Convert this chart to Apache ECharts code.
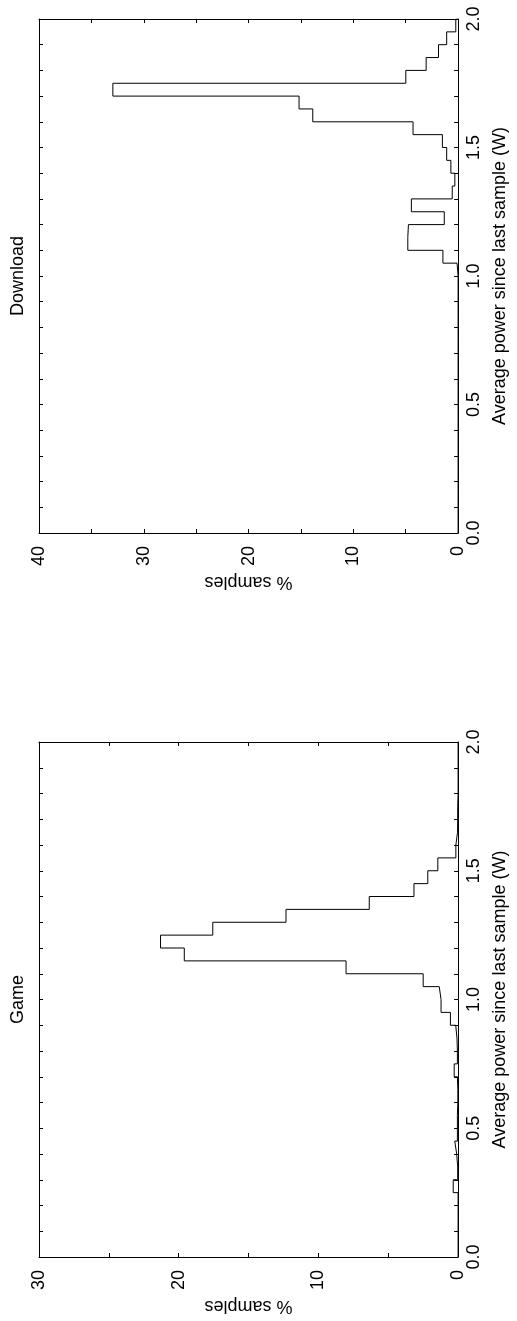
<!DOCTYPE html>
<html>
<head>
<meta charset="utf-8">
<script src="https://cdn.jsdelivr.net/npm/echarts@6/dist/echarts.min.js"></script>
<style>
html,body{margin:0;padding:0;background:#fff;}
#chart{width:517px;height:1321px;}
</style>
</head>
<body>
<div id="chart"></div>
<script>
// Bin lower edges (W); every bin is 0.05 W wide
const binStart = [0.00,0.05,0.10,0.15,0.20,0.25,0.30,0.35,0.40,0.45,
                  0.50,0.55,0.60,0.65,0.70,0.75,0.80,0.85,0.90,0.95,
                  1.00,1.05,1.10,1.15,1.20,1.25,1.30,1.35,1.40,1.45,
                  1.50,1.55,1.60,1.65,1.70,1.75,1.80,1.85,1.90,1.95];
const binWidth = 0.05;

// % samples per bin
const downloadPct = [0,0,0,0,0,0,0,0,0,0,
                     0,0,0,0,0,0,0,0,0,0,
                     0.10,1.45,4.80,4.74,1.32,4.46,0.56,0.31,0.69,1.09,
                     1.50,4.30,13.87,15.18,32.95,4.99,3.05,1.87,1.09,0.22];
const gamePct = [0,0,0,0,0,0.35,0.03,0.10,0.24,0.05,
                 0.05,0.02,0.02,0.05,0.28,0.05,0.08,0.17,0.55,1.22,
                 1.35,2.50,8.02,19.60,21.30,17.56,12.32,6.36,3.16,2.17,
                 1.45,0.16,0.04,0.03,0.03,0,0,0,0,0];

const panelTitles = ['Download', 'Game'];
const pctMax = [40, 30];
const powerTicksLabelled = ['0.0','0.5','1.0','1.5','2.0'];
const xName = '% samples';
const yName = 'Average power since last sample (W)';

const FONT = '"Liberation Sans", Arial, Helvetica, sans-serif';
const FS = 18;

function stepPoints(pcts) {
  const pts = [[0, binStart[0]]];
  for (let i = 0; i < binStart.length; i++) {
    pts.push([pcts[i], binStart[i]]);
    pts.push([pcts[i], binStart[i] + binWidth]);
  }
  pts.push([0, binStart[binStart.length - 1] + binWidth]);
  return pts;
}

const grids = [
  {left: 39, top: 19, width: 428, height: 514},
  {left: 39, top: 742, width: 428, height: 515}
];

const lineStyle = {color: '#000', width: 1};
const tickStyle = {show: true, inside: true, length: 4, lineStyle: {color: '#000', width: 1}};

const xAxes = [], yAxes = [], series = [], graphics = [];
[downloadPct, gamePct].forEach((data, g) => {
  const labelled = {
    gridIndex: g, type: 'value', min: 0, max: pctMax[g], interval: 5, inverse: true,
    position: 'bottom',
    axisLine: {show: true, onZero: false, lineStyle},
    axisTick: tickStyle,
    splitLine: {show: false},
    axisLabel: {
      show: true, rotate: 90, margin: 13, color: '#000', fontSize: FS, fontFamily: FONT,
      formatter: v => (Math.round(v) % 10 === 0 ? String(Math.round(v)) : '')
    },
    name: xName, nameLocation: 'middle', nameGap: 40, nameRotate: 180,
    nameTextStyle: {color: '#000', fontSize: FS, fontFamily: FONT}
  };
  const mirror = {
    gridIndex: g, type: 'value', min: 0, max: pctMax[g], interval: 5, inverse: true,
    position: 'top',
    axisLine: {show: true, onZero: false, lineStyle},
    axisTick: tickStyle, splitLine: {show: false}, axisLabel: {show: false}
  };
  xAxes.push(labelled, mirror);

  const yLab = {
    gridIndex: g, type: 'value', min: 0, max: 2, interval: 0.1, position: 'right',
    axisLine: {show: true, onZero: false, lineStyle},
    axisTick: tickStyle, splitLine: {show: false},
    axisLabel: {
      show: true, rotate: 90, margin: 7, color: '#000', fontSize: FS, fontFamily: FONT,
      formatter: v => {
        const s = v.toFixed(1);
        return powerTicksLabelled.indexOf(s) >= 0 && Math.abs(v * 2 - Math.round(v * 2)) < 1e-6 ? s : '';
      }
    },
    name: yName, nameLocation: 'middle', nameGap: 31, nameRotate: 90,
    nameTextStyle: {color: '#000', fontSize: FS, fontFamily: FONT}
  };
  const yMirror = {
    gridIndex: g, type: 'value', min: 0, max: 2, interval: 0.1, position: 'left',
    axisLine: {show: true, onZero: false, lineStyle},
    axisTick: tickStyle, splitLine: {show: false}, axisLabel: {show: false}
  };
  yAxes.push(yLab, yMirror);

  series.push({
    type: 'line', xAxisIndex: g * 2, yAxisIndex: g * 2,
    data: stepPoints(data), symbol: 'none', showSymbol: false,
    lineStyle: {color: '#000', width: 1}, animation: false, silent: true
  });

  const gr = grids[g];
  graphics.push({
    type: 'text', x: 18.4, y: gr.top + gr.height / 2, rotation: Math.PI / 2,
    style: {text: panelTitles[g], font: FS + 'px ' + FONT, fill: '#000', align: 'center', verticalAlign: 'middle'}
  });
});

const chart = echarts.init(document.getElementById('chart'), null, {renderer: 'canvas'});
chart.setOption({
  animation: false,
  backgroundColor: '#fff',
  grid: grids,
  xAxis: xAxes,
  yAxis: yAxes,
  series: series,
  graphic: graphics
});
</script>
</body>
</html>
